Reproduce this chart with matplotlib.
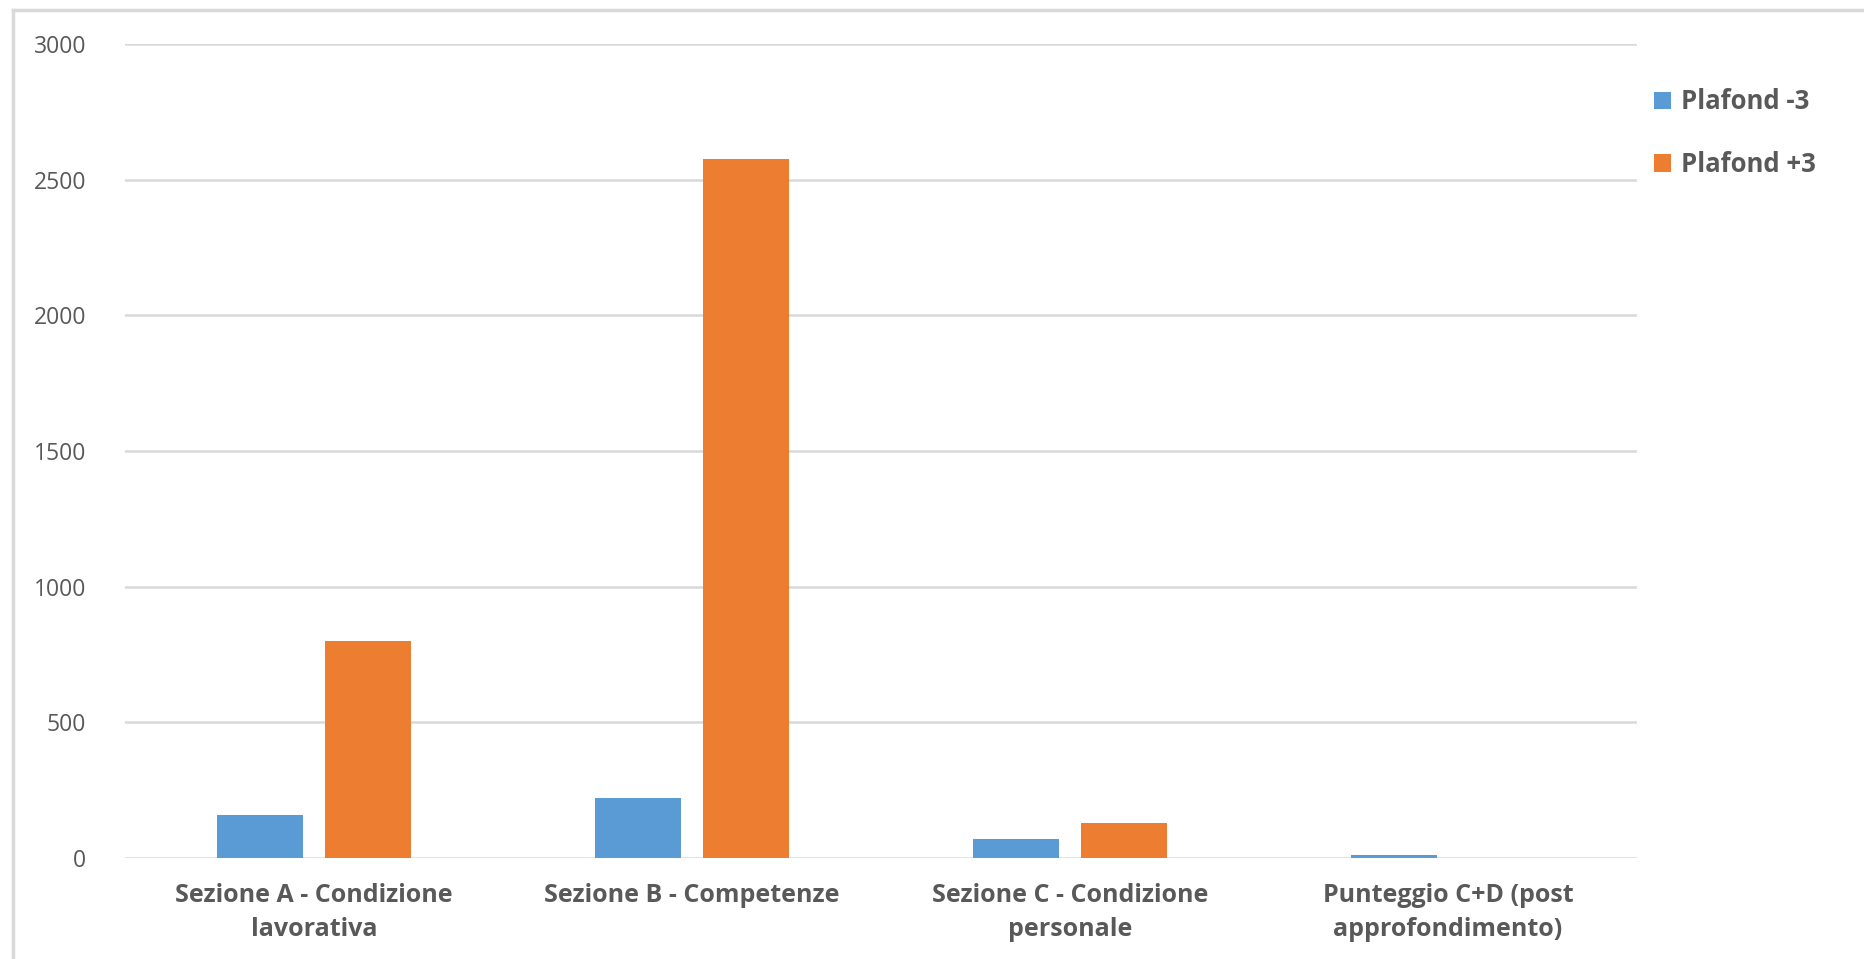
import matplotlib
matplotlib.use("Agg")
import matplotlib.pyplot as plt
from matplotlib import font_manager as fm
from matplotlib.lines import Line2D
import numpy as np

categories = ["Sezione A - Condizione\nlavorativa", "Sezione B - Competenze",
              "Sezione C - Condizione\npersonale", "Punteggio C+D (post\napprofondimento)"]
series_names = ["Plafond -3", "Plafond +3"]
plafond_minus3 = [160, 220, 70, 10]
plafond_plus3 = [800, 2575, 130, 0]
yticks = [0, 500, 1000, 1500, 2000, 2500, 3000]

names = {f.name for f in fm.fontManager.ttflist}
cat_font = 'Liberation Sans Narrow' if 'Liberation Sans Narrow' in names else 'Open Sans'
num_font = 'Open Sans' if 'Open Sans' in names else 'DejaVu Sans'

W, H = 1865, 959
fig = plt.figure(figsize=(W/100, H/100), dpi=100)
ax = fig.add_axes([125/W, 1-858/H, (1637-125)/W, (858-44)/H])

x = np.arange(len(categories))
bw = 0.227
off = 0.143
ax.bar(x - off, plafond_minus3, bw, color='#5B9BD5', label=series_names[0], zorder=3)
ax.bar(x + off, plafond_plus3, bw, color='#ED7D31', label=series_names[1], zorder=3)

ax.set_xlim(-0.5, len(categories) - 0.5)
ax.set_ylim(0, 3000)
ax.set_yticks(yticks)
ax.set_yticklabels([str(v) for v in yticks], fontfamily=num_font, fontsize=16.5, color='#595959')
ax.set_xticks(x)
ax.set_xticklabels(categories, fontfamily=cat_font, fontsize=18, fontweight='bold',
                   color='#595959', linespacing=1.45, va='top')
ax.tick_params(axis='y', length=0, pad=28)
ax.tick_params(axis='x', length=0, pad=18)
ax.grid(axis='y', color='#D9D9D9', linewidth=1.8, zorder=0)
ax.set_axisbelow(True)
for s in ax.spines.values():
    s.set_visible(False)

leg = fig.legend(loc='upper left', bbox_to_anchor=(1631/W, 1-65/H), frameon=False,
                 prop={'family': num_font, 'weight': 'bold', 'size': 18.5},
                 handlelength=0.65, handleheight=0.65, handletextpad=0.4, labelspacing=1.4)
for t in leg.get_texts():
    t.set_color('#595959')

# outer chart frame
fig.add_artist(Line2D([13/W, 13/W], [0, 1-10/H], color='#D9D9D9', linewidth=2.5, transform=fig.transFigure))
fig.add_artist(Line2D([13/W, 1], [1-10/H, 1-10/H], color='#D9D9D9', linewidth=2.5, transform=fig.transFigure))

fig.savefig('out.png', dpi=100, facecolor='white')
